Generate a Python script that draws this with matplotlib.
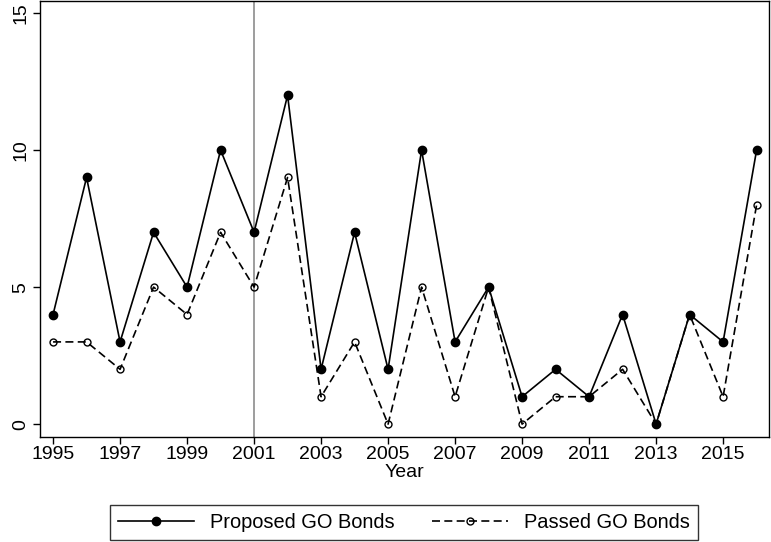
import numpy as np
import matplotlib
matplotlib.use('Agg')
import matplotlib.pyplot as plt

#%% Data
years = list(range(1995, 2017))
proposed = [4, 9, 3, 7, 5, 10, 7, 12, 2, 7, 2, 10, 3, 5, 1, 2, 1, 4, 0, 4, 3, 10]
passed = [3, 3, 2, 5, 4, 7, 5, 9, 1, 3, 0, 5, 1, 5, 0, 1, 1, 2, 0, 4, 1, 8]
xticks = list(range(1995, 2017, 2))
yticks = [0, 5, 10, 15]

#%% Plot
plt.rcParams['font.family'] = ['Liberation Sans', 'DejaVu Sans']
fig = plt.figure(figsize=(7.71, 5.42), dpi=100)
ax = fig.add_axes([40 / 771, 105 / 542, 729 / 771, 436 / 542])

ax.axvline(2001, color='#8c8c8c', lw=1.2, zorder=1)
ax.plot(years, passed, color='black', lw=1.2, ls=(0, (4.8, 2.6)), marker='o', ms=5,
        mfc='none', mec='black', mew=1, label='Passed GO Bonds', zorder=2)
ax.plot(years, proposed, color='black', lw=1.2, marker='o', ms=6,
        mfc='black', mec='black', label='Proposed GO Bonds', zorder=3)

ax.set_xlim(1994.61, 2016.37)
ax.set_ylim(-0.47, 15.44)
ax.set_xticks(xticks)
ax.set_yticks(yticks)
ax.set_yticklabels([str(v) for v in yticks], rotation=90, va='center')
ax.tick_params(labelsize=14, length=5, width=1, color='black')
ax.tick_params(axis='x', pad=1.5)
ax.tick_params(axis='y', pad=2.5)
ax.set_xlabel('Year', fontsize=14, labelpad=0.5)
for s in ax.spines.values():
    s.set_linewidth(1)

handles, labels = ax.get_legend_handles_labels()
leg = fig.legend(handles[::-1], labels[::-1], loc='center',
                 bbox_to_anchor=(404 / 771, 1 - 522 / 542), ncol=2,
                 fontsize=14.4, frameon=True, fancybox=False, edgecolor='black',
                 handlelength=3.8, handletextpad=0.8, columnspacing=1.9,
                 borderpad=0.4)
leg.get_frame().set_linewidth(1)

fig.savefig('out.png', dpi=100)
